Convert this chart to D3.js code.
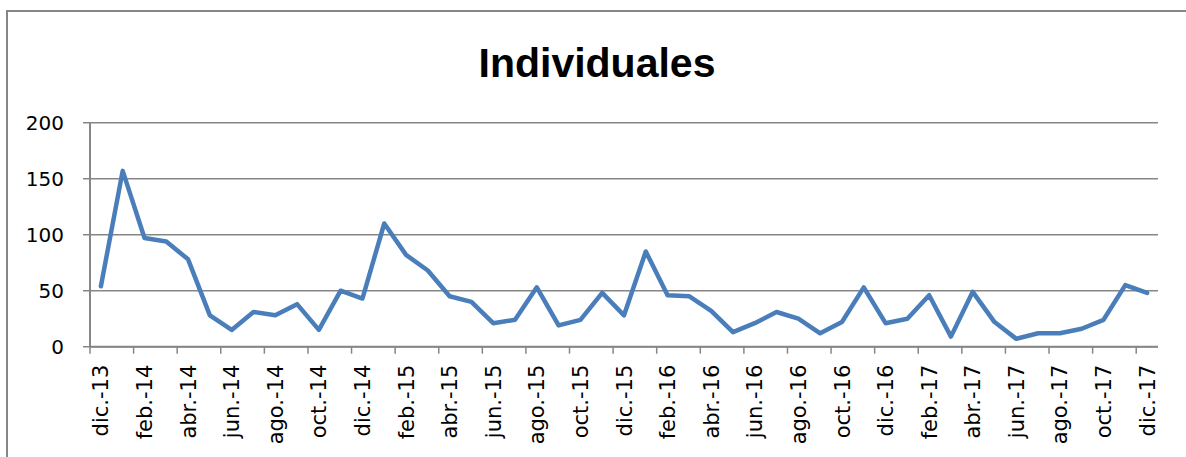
<!DOCTYPE html>
<html>
<head>
<meta charset="utf-8">
<script src="https://cdn.jsdelivr.net/npm/d3@7"></script>
<style>
  body { margin: 0; background: #fff; }
  svg { display: block; }
</style>
</head>
<body>
<div id="chart"></div>
<script>
// month labels dic-13 .. dic-17
const months = ["dic.", "ene.", "feb.", "mar.", "abr.", "may.", "jun.", "jul.", "ago.", "sep.", "oct.", "nov."];
const categories = [];
for (let i = 0; i < 49; i++) {
  const yr = 13 + Math.floor((i + 11) / 12);
  categories.push(months[i % 12] + "-" + yr);
}

const values = [54, 157, 97, 94, 78, 28, 15, 31, 28, 38, 15, 50, 43, 110,
  82, 68, 45, 40, 21, 24, 53, 19, 24, 48, 28, 85, 46, 45, 32, 13, 21, 31,
  25, 12, 22, 53, 21, 25, 46, 9, 49, 22, 7, 12, 12, 16, 24, 55, 48];

const yTicks = [0, 50, 100, 150, 200];

const width = 1186;
const height = 457;
const plotLeft = 90, plotRight = 1158, plotTop = 122.7, plotBottom = 346.7;

const svg = d3.select("#chart")
  .append("svg")
  .attr("width", width)
  .attr("height", height);

// outer chart frame
svg.append("rect")
  .attr("x", 7)
  .attr("y", 11)
  .attr("width", 1200)
  .attr("height", 500)
  .attr("fill", "#fff")
  .attr("stroke", "#868686")
  .attr("stroke-width", 2);

svg.append("text")
  .attr("x", 597)
  .attr("y", 77)
  .attr("text-anchor", "middle")
  .attr("font-family", "Liberation Sans, Arial, sans-serif")
  .attr("font-weight", "bold")
  .attr("font-size", 41)
  .attr("fill", "#000")
  .text("Individuales");

const x = d3.scaleBand().domain(categories).range([plotLeft, plotRight]);
const y = d3.scaleLinear().domain([0, 200]).range([plotBottom, plotTop]);

// gridlines
svg.append("g")
  .selectAll("line")
  .data(yTicks)
  .join("line")
  .attr("x1", plotLeft - 7)
  .attr("x2", plotRight)
  .attr("y1", (d) => y(d))
  .attr("y2", (d) => y(d))
  .attr("stroke", "#868686")
  .attr("stroke-width", 1.5);

// y labels
svg.append("g")
  .selectAll("text")
  .data(yTicks)
  .join("text")
  .attr("x", 64)
  .attr("y", (d) => y(d))
  .attr("dy", "0.36em")
  .attr("text-anchor", "end")
  .attr("font-family", "DejaVu Sans, sans-serif")
  .attr("font-size", 20)
  .attr("fill", "#000")
  .text((d) => d);

// y axis line
svg.append("line")
  .attr("x1", plotLeft).attr("x2", plotLeft)
  .attr("y1", plotTop).attr("y2", plotBottom)
  .attr("stroke", "#868686")
  .attr("stroke-width", 2);

// x tick marks every 2 categories
const tickCats = categories.filter((d, i) => i % 2 === 0);
svg.append("g")
  .selectAll("line")
  .data(tickCats)
  .join("line")
  .attr("x1", (d) => x(d))
  .attr("x2", (d) => x(d))
  .attr("y1", plotBottom)
  .attr("y2", plotBottom + 7)
  .attr("stroke", "#868686")
  .attr("stroke-width", 1.5);

// x labels
svg.append("g")
  .selectAll("text")
  .data(tickCats)
  .join("text")
  .attr("transform", (d) => `translate(${x(d) + x.bandwidth() / 2},${plotBottom + 18}) rotate(-90)`)
  .attr("dy", "0.36em")
  .attr("text-anchor", "end")
  .attr("font-family", "DejaVu Sans, sans-serif")
  .attr("font-size", 21)
  .attr("fill", "#000")
  .text((d) => d);

// x axis line
svg.append("line")
  .attr("x1", plotLeft).attr("x2", plotRight)
  .attr("y1", plotBottom).attr("y2", plotBottom)
  .attr("stroke", "#868686")
  .attr("stroke-width", 2);

const line = d3.line()
  .x((d, i) => x(categories[i]) + x.bandwidth() / 2)
  .y((d) => y(d));

svg.append("path")
  .datum(values)
  .attr("d", line)
  .attr("fill", "none")
  .attr("stroke", "#4a7ebb")
  .attr("stroke-width", 4.5)
  .attr("stroke-linejoin", "round")
  .attr("stroke-linecap", "round");
</script>
</body>
</html>
